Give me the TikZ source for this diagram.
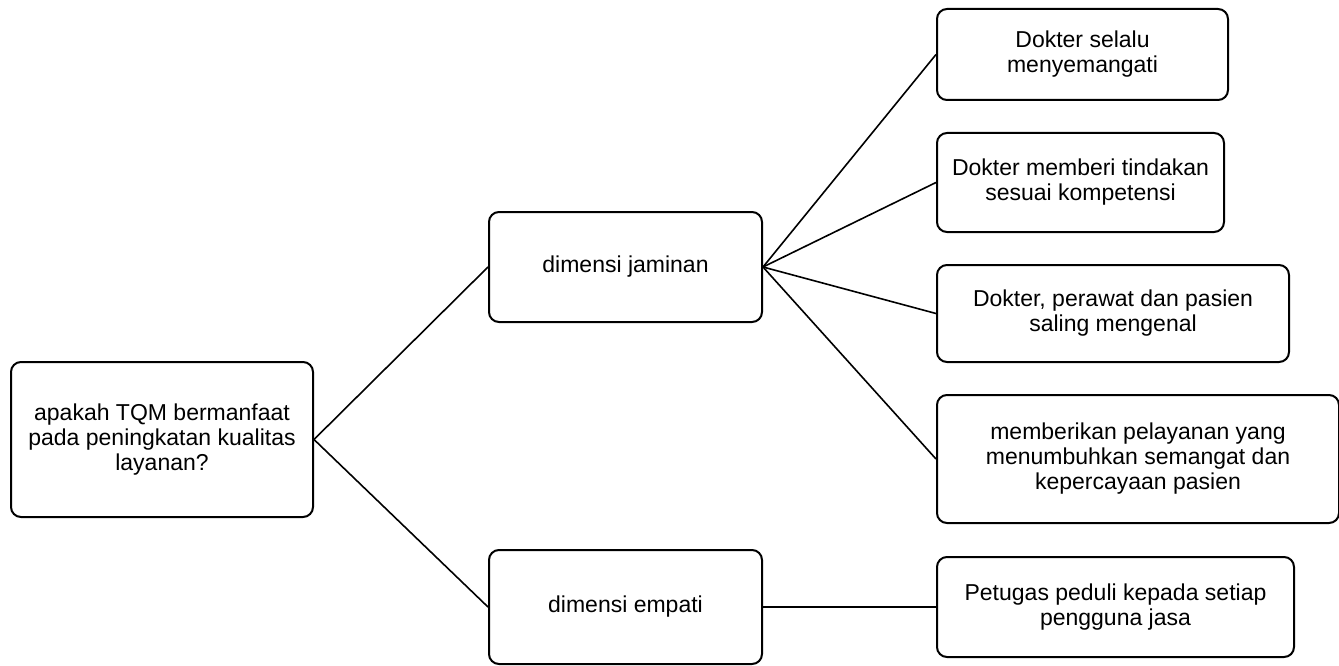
\documentclass[tikz,border=0pt]{standalone}
\usepackage{fontspec}
\setmainfont{Liberation Sans}

\begin{document}
\begin{tikzpicture}[x=1pt, y=-1pt,
  box/.style={draw, line width=2pt, rounded corners=10pt, align=center,
    inner sep=0pt, font=\fontsize{23}{25}\selectfont},
  link/.style={line width=1.6pt}]
\useasboundingbox (0,0) rectangle (1339,666);

\node[box, minimum width=302pt, minimum height=155pt] (tanya) at (162,439.5)
  {apakah TQM bermanfaat\\pada peningkatan kualitas\\layanan?};

\node[box, minimum width=273pt, minimum height=110pt] (jaminan) at (625.5,267) {dimensi jaminan};
\node[box, minimum width=273pt, minimum height=114pt] (empati) at (625.5,607) {dimensi empati};

\node[box, minimum width=291pt, minimum height=91pt] (semangat) at (1082.5,54.5)
  {Dokter selalu\\menyemangati};
\node[box, minimum width=287pt, minimum height=99pt] (kompetensi) at (1080.5,182.5)
  {Dokter memberi tindakan\\sesuai kompetensi};
\node[box, minimum width=352pt, minimum height=97pt] (kenal) at (1113,313.5)
  {Dokter, perawat dan pasien\\saling mengenal};
\node[box, minimum width=402pt, minimum height=128pt] (percaya) at (1138,459)
  {memberikan pelayanan yang\\menumbuhkan semangat dan\\kepercayaan pasien};
\node[box, minimum width=357pt, minimum height=100pt] (peduli) at (1115.5,607)
  {Petugas peduli kepada setiap\\pengguna jasa};

\draw[link] (tanya.east) -- (jaminan.west);
\draw[link] (tanya.east) -- (empati.west);

\foreach \leaf in {semangat, kompetensi, kenal, percaya}
  \draw[link] (jaminan.east) -- (\leaf.west);
\draw[link] (empati.east) -- (peduli.west);
\end{tikzpicture}
\end{document}
